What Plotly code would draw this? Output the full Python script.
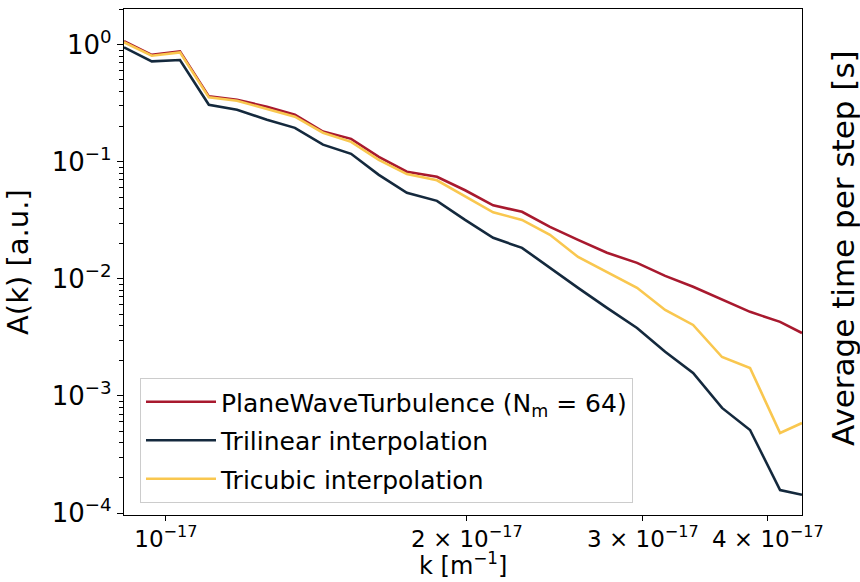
import plotly.graph_objects as go

# wavenumbers k [m^-1]
k = [0.908e-17, 0.968e-17, 1.033e-17, 1.104e-17, 1.178e-17, 1.262e-17, 1.346e-17,
     1.436e-17, 1.532e-17, 1.633e-17, 1.742e-17, 1.867e-17, 1.992e-17, 2.125e-17,
     2.271e-17, 2.422e-17, 2.584e-17, 2.762e-17, 2.960e-17, 3.158e-17, 3.368e-17,
     3.600e-17, 3.840e-17, 4.115e-17, 4.328e-17]

plane_wave = [1.07, 0.82, 0.877, 0.362, 0.339, 0.295, 0.252, 0.181, 0.157, 0.110,
              0.0822, 0.0744, 0.0571, 0.0425, 0.0374, 0.0278, 0.0215, 0.0167, 0.0137,
              0.0106, 0.00855, 0.00662, 0.00523, 0.00429, 0.00345]

trilinear = [0.95, 0.72, 0.74, 0.307, 0.278, 0.229, 0.195, 0.140, 0.117, 0.0774,
             0.0543, 0.0464, 0.0319, 0.0224, 0.0184, 0.0124, 0.00838, 0.00565, 0.00381,
             0.00238, 0.00157, 0.00079, 0.000512, 0.000157, 0.000143]

tricubic = [1.05, 0.805, 0.86, 0.355, 0.332, 0.284, 0.243, 0.177, 0.148, 0.104,
            0.0785, 0.0695, 0.0507, 0.037, 0.0319, 0.0238, 0.0154, 0.0115, 0.00838,
            0.00543, 0.00404, 0.00215, 0.00173, 0.000483, 0.000587]

series_names = ["PlaneWaveTurbulence (N<sub>m</sub> = 64)",
                "Trilinear interpolation",
                "Tricubic interpolation"]
series_colors = ["#a8192e", "#14293d", "#f9c74f"]

x_tickvals = [1e-17, 2e-17, 3e-17, 4e-17]
x_ticktext = ["10<sup>−17</sup>", "2 × 10<sup>−17</sup>", "3 × 10<sup>−17</sup>",
              "4 × 10<sup>−17</sup>"]
y_tickvals = [1e0, 1e-1, 1e-2, 1e-3, 1e-4]
y_ticktext = ["10<sup>0</sup>", "10<sup>−1</sup>", "10<sup>−2</sup>",
              "10<sup>−3</sup>", "10<sup>−4</sup>"]
y_minor = [m * 10.0 ** e for e in (-4, -3, -2, -1, 0) for m in range(2, 10)]

FONT = "DejaVu Sans"

fig = go.Figure()
for i, (name, vals, col) in enumerate(zip(series_names, [plane_wave, trilinear, tricubic],
                                           series_colors)):
    fig.add_trace(go.Scatter(x=k, y=vals, mode="lines", name=name, legendgroup=f"g{i}",
                             line=dict(color=col, width=2.6)))

axis_common = dict(showline=True, linecolor="black", linewidth=1.3, mirror=True,
                   ticks="outside", tickcolor="black", showgrid=False, zeroline=False,
                   automargin=False)

fig.update_layout(
    width=860, height=582,
    margin=dict(l=124, r=58, t=9, b=67),
    paper_bgcolor="white", plot_bgcolor="white",
    font=dict(family=FONT, color="black"),
    xaxis=dict(type="log", range=[-17.0419, -16.3637],
               tickmode="array", tickvals=x_tickvals, ticktext=x_ticktext,
               ticklen=5, tickwidth=1.2, tickangle=0, ticklabelstandoff=-2,
               tickfont=dict(family=FONT, size=23, color="black"),
               **axis_common),
    yaxis=dict(type="log", range=[-4.017, 0.305],
               tickmode="array", tickvals=y_tickvals, ticktext=y_ticktext,
               ticklen=6, tickwidth=1.2,
               tickfont=dict(family=FONT, size=26, color="black"),
               minor=dict(tickmode="array", tickvals=y_minor, ticks="outside",
                          ticklen=3.5, tickcolor="black", tickwidth=1),
               **axis_common),
    legend=dict(x=0.0236, y=0.0237, xanchor="left", yanchor="bottom",
                bgcolor="rgba(255,255,255,0.85)", bordercolor="#cccccc", borderwidth=1,
                font=dict(family=FONT, size=25, color="black"),
                tracegroupgap=3, itemwidth=70),
    annotations=[
        dict(text="Average time per step [s]", textangle=-90,
             xref="paper", yref="paper", x=1.0, y=0.5,
             xanchor="center", yanchor="middle", xshift=41, yshift=14, showarrow=False,
             font=dict(family=FONT, size=31, color="black")),
        dict(text="A(k) [a.u.]", textangle=-90,
             xref="paper", yref="paper", x=0.0, y=0.5,
             xanchor="center", yanchor="middle", xshift=-106, showarrow=False,
             font=dict(family=FONT, size=29, color="black")),
        dict(text="k [m<sup>−1</sup>]",
             xref="paper", yref="paper", x=0.5, y=0.0,
             xanchor="center", yanchor="bottom", yshift=-67, showarrow=False,
             font=dict(family=FONT, size=24, color="black")),
    ],
)

fig.write_html("out.html")
